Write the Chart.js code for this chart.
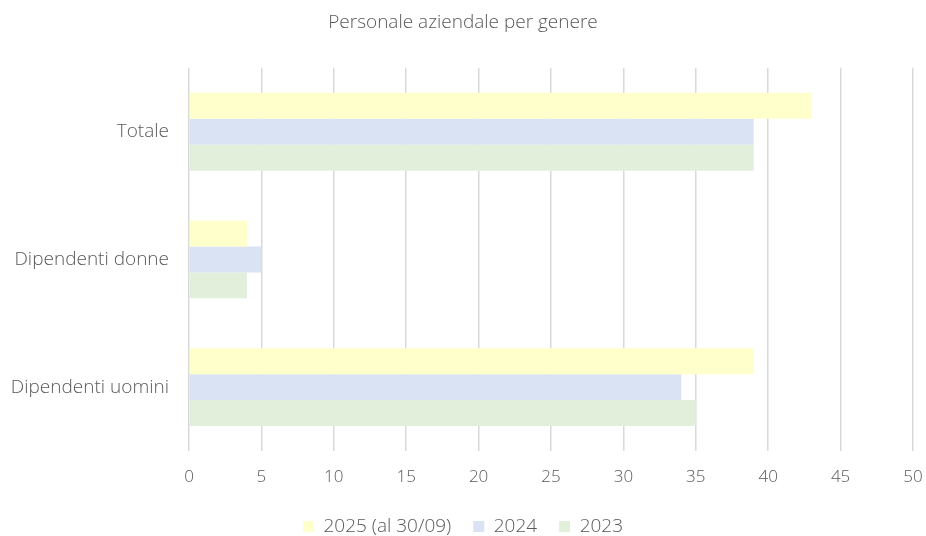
<!DOCTYPE html>
<html>
<head>
<meta charset="utf-8">
<script src="https://cdn.jsdelivr.net/npm/chart.js@4"></script>
<style>
  html, body { margin: 0; padding: 0; background: #fff; }
  #wrap { width: 926px; height: 536px; }
</style>
</head>
<body>
<div id="wrap"><canvas id="chart"></canvas></div>
<script>
// dati
const categorie = ['Totale', 'Dipendenti donne', 'Dipendenti uomini'];
const anno2025 = [43, 4, 39];
const anno2024 = [39, 5, 34];
const anno2023 = [39, 4, 35];
const serie = ['2025 (al 30/09)', '2024', '2023'];

const grigio = '#595959';
Chart.defaults.font.family = '"Open Sans", Lato, sans-serif';
Chart.defaults.color = grigio;

new Chart(document.getElementById('chart').getContext('2d'), {
  type: 'bar',
  data: {
    labels: categorie,
    datasets: [
      { label: serie[0], data: anno2025, backgroundColor: '#FFFFCC' },
      { label: serie[1], data: anno2024, backgroundColor: '#DAE3F3' },
      { label: serie[2], data: anno2023, backgroundColor: '#E2EFDA' }
    ]
  },
  options: {
    indexAxis: 'y',
    responsive: true,
    maintainAspectRatio: false,
    animation: false,
    categoryPercentage: 0.61,
    barPercentage: 1,
    layout: { padding: { left: 0, right: 0, top: 0, bottom: -10 } },
    plugins: {
      title: {
        display: true,
        text: 'Personale aziendale per genere',
        font: { size: 19, weight: 300 },
        color: grigio,
        padding: { top: 11, bottom: 34 }
      },
      legend: {
        position: 'bottom',
        labels: { boxWidth: 11, boxHeight: 11, font: { size: 19, weight: 300 }, padding: 22 }
      },
      tooltip: { enabled: false }
    },
    scales: {
      x: {
        min: 0, max: 50,
        ticks: { stepSize: 5, font: { size: 17, weight: 300 }, padding: 16 },
        grid: { color: '#d9d9d9', lineWidth: 1.5, drawTicks: false },
        border: { display: false },
        afterFit: s => { s.height = 44; s.paddingRight = 13; }
      },
      y: {
        ticks: { font: { size: 19, weight: 300 }, padding: 12 },
        grid: { display: false },
        border: { display: false },
        afterFit: s => { s.width = 189; }
      }
    }
  }
});
</script>
</body>
</html>
